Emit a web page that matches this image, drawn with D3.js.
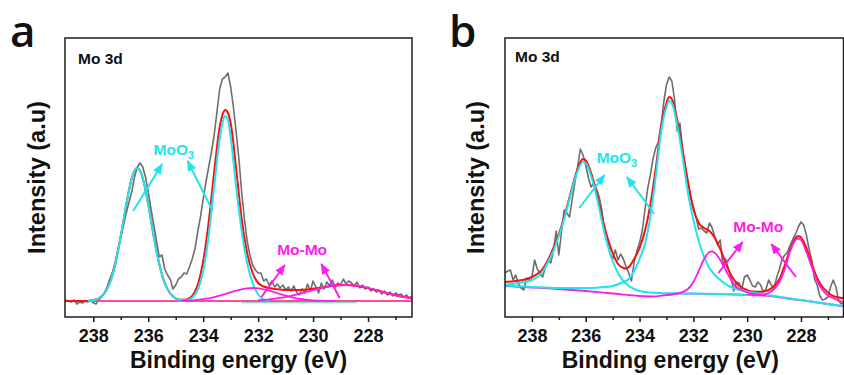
<!DOCTYPE html>
<html>
<head>
<meta charset="utf-8">
<script src="https://cdn.jsdelivr.net/npm/d3@7"></script>
<style>
  html, body { margin: 0; padding: 0; background: #fff; }
  svg text { font-family: "Liberation Sans", Arial, sans-serif; font-weight: bold; }
  svg text.panel-letter { font-family: "Open Sans", "Noto Sans", sans-serif; font-weight: 600; }
</style>
</head>
<body>
<svg id="chart" width="844" height="375"></svg>
<script>
// ---- data (binding energy in eV, intensity in arbitrary units) ----
const energyTicks = [238, 236, 234, 232, 230, 228];
const minorTicks = [237, 235, 233, 231, 229, 227];
const rawStart = 239.0;   // first raw point
const rawStep = 0.1;      // eV between raw points

// measured spectrum, panel a
const rawA = [
  17, 16, 15, 17, 13, 15, 14, 16, 15, 17,
  14, 13, 17, 20, 24, 30, 38, 45, 55, 68,
  80, 92, 104, 115, 125, 140, 150, 154, 150, 140,
  125, 108, 92, 76, 60, 62, 48, 42, 38, 28,
  32, 38, 40, 44, 43, 50, 58, 68, 85, 100,
  118, 135, 150, 165, 182, 205, 228, 238, 240, 244,
  230, 210, 185, 158, 125, 98, 76, 62, 52, 47,
  44, 44, 36, 38, 32, 36, 30, 33, 29, 32,
  27, 30, 26, 31, 25, 22, 28, 24, 33, 26,
  36, 30, 24, 34, 28, 35, 31, 37, 30, 34,
  32, 38, 33, 36, 34, 31, 35, 29, 32, 28,
  30, 26, 28, 25, 27, 23, 26, 22, 25, 21,
  24, 22, 23, 20, 22, 19, 21
];
// measured spectrum, panel b
const rawB = [
  44, 46, 47, 37, 42, 33, 29, 27, 39, 37,
  40, 57, 48, 44, 40, 50, 57, 54, 66, 86,
  62, 85, 107, 104, 100, 118, 135, 150, 168, 162,
  152, 139, 130, 134, 128, 120, 107, 84, 78, 64,
  58, 67, 57, 63, 58, 50, 44, 36, 55, 66,
  74, 86, 107, 128, 142, 158, 169, 175, 192, 215,
  232, 240, 236, 218, 186, 194, 168, 150, 135, 120,
  110, 100, 88, 89, 86, 84, 94, 89, 80, 72,
  77, 51, 58, 48, 40, 26, 35, 34, 28, 40,
  42, 37, 31, 30, 35, 32, 25, 28, 37, 32,
  28, 40, 48, 58, 62, 65, 72, 78, 83, 90,
  95, 92, 82, 68, 57, 38, 32, 21, 17, 18,
  20, 30, 37, 30, 16, 13, 15
];

// fitted components, panel a
const bgA = [[239.03, 16], [226.4, 16]];
const bgA2 = [[232.6, 14.3], [228.4, 14.3]];
const envA = [[239.03, 16], [238.4, 16], [238.2, 16.1], [238.0, 16.8], [237.8, 18.6], [237.6, 23.5],
  [237.4, 34], [237.2, 53], [237.0, 80.7], [236.8, 112.6], [236.6, 138.8], [236.5, 146.4], [236.4, 149],
  [236.3, 146.4], [236.2, 138.8], [236.0, 112.6], [235.8, 80.7], [235.6, 53], [235.4, 34], [235.2, 23.5],
  [235.0, 18.7], [234.8, 17.2], [234.6, 17.6], [234.4, 21], [234.2, 32], [234.0, 56], [233.8, 95],
  [233.6, 145], [233.4, 190], [233.3, 202], [233.2, 207], [233.1, 204], [233.0, 194], [232.8, 148],
  [232.6, 98], [232.4, 64], [232.2, 44], [232.0, 34], [231.8, 30.5], [231.6, 29], [231.4, 28],
  [231.2, 27.5], [231.0, 27], [230.8, 27], [230.6, 27], [230.4, 27.2], [230.2, 27.6], [230.0, 28.2],
  [229.8, 29], [229.6, 29.8], [229.4, 30.7], [229.2, 31.4], [229.0, 31.9], [228.8, 32], [228.6, 31.7],
  [228.4, 31.1], [228.2, 30.1], [228.0, 28.9], [227.8, 27.5], [227.6, 26.1], [227.4, 24.6], [227.2, 23.2],
  [227.0, 21.8], [226.8, 20.6], [226.6, 19.6], [226.4, 18.7]];
const moo3A1 = [[238.2, 16.1], [238.0, 16.8], [237.8, 18.6], [237.6, 23.5], [237.4, 34], [237.2, 53],
  [237.0, 80.7], [236.8, 112.6], [236.6, 138.8], [236.5, 146.4], [236.4, 149], [236.3, 146.4], [236.2, 138.8],
  [236.0, 112.6], [235.8, 80.7], [235.6, 53], [235.4, 34], [235.2, 23.5], [235.0, 18.6], [234.8, 16.8], [234.6, 16.2]];
const moo3A2 = [[234.8, 16.2], [234.6, 16.8], [234.4, 19.3], [234.2, 27.1], [234.0, 46], [233.8, 81.5],
  [233.6, 130.9], [233.4, 178.3], [233.3, 194], [233.2, 201], [233.1, 197], [233.0, 180], [232.8, 130],
  [232.6, 86], [232.4, 54], [232.2, 34], [232.0, 22.5], [231.8, 17.5], [231.6, 16.3]];
const momoA1 = [[234.8, 16.2], [234.4, 16.6], [234.0, 17.8], [233.6, 19.9], [233.2, 23], [232.8, 26.4],
  [232.4, 28.7], [232.2, 29], [232.0, 28.7], [231.6, 26.4], [231.2, 23], [230.8, 19.9], [230.4, 17.8],
  [230.0, 16.6], [229.6, 16.2], [229.2, 16]];
const momoA2 = [[232.0, 16.85], [231.6, 17.7], [231.2, 19.1], [230.8, 21.2], [230.4, 23.9], [230.0, 26.8],
  [229.6, 29.6], [229.2, 31.4], [228.8, 32], [228.4, 31.1], [228.0, 28.9], [227.6, 26.1], [227.2, 23.2],
  [226.8, 20.6], [226.4, 18.7]];

// fitted components, panel b
const bgB = [[239.0, 31], [238.0, 29.5], [237.0, 28], [236.0, 26], [235.0, 23.5], [234.0, 21], [233.5, 20.5],
  [233.0, 22], [232.5, 23.3], [232.0, 23.3], [231.0, 22.8], [230.0, 22.2], [229.5, 21.7], [229.0, 20.5],
  [228.5, 18.5], [228.0, 16.8], [227.5, 15], [227.0, 13], [226.42, 10.5]];
const envB = [[239.0, 35], [238.6, 36], [238.2, 38], [238.0, 40], [237.8, 43], [237.6, 48], [237.4, 57],
  [237.2, 69], [237.0, 83], [236.8, 100], [236.6, 120], [236.4, 140], [236.2, 155], [236.1, 158],
  [236.0, 156.5], [235.8, 144], [235.6, 125], [235.4, 101], [235.2, 80], [235.0, 64], [234.8, 53],
  [234.6, 49], [234.5, 48.5], [234.4, 50], [234.2, 58], [234.0, 69], [233.8, 86], [233.6, 112],
  [233.4, 148], [233.2, 190], [233.0, 214], [232.9, 220], [232.8, 218], [232.6, 197], [232.4, 167],
  [232.2, 135], [232.0, 108], [231.8, 94], [231.6, 89], [231.4, 86], [231.2, 79], [231.0, 68],
  [230.8, 54], [230.6, 42], [230.4, 34], [230.2, 29.5], [230.0, 27], [229.8, 25.5], [229.6, 25.3],
  [229.4, 25.5], [229.2, 27], [229.0, 31], [228.8, 38], [228.6, 52], [228.4, 68], [228.2, 79],
  [228.1, 81], [228.0, 79.5], [227.8, 69], [227.6, 53], [227.4, 39], [227.2, 30], [227.0, 24.5],
  [226.8, 21], [226.6, 19.5], [226.42, 18.7]];
const moo3B1 = [[239.0, 32], [238.5, 34], [238.0, 37], [237.8, 40], [237.6, 45], [237.4, 55], [237.2, 66],
  [237.0, 81], [236.8, 98], [236.6, 118], [236.4, 138], [236.2, 152], [236.1, 155], [236.0, 154],
  [235.8, 141], [235.6, 121], [235.4, 96], [235.2, 73], [235.0, 56], [234.8, 44], [234.6, 36],
  [234.4, 31], [234.2, 28], [234.0, 26], [233.6, 24.5], [233.0, 23.8], [232.5, 23.6], [232.0, 23.4],
  [231.0, 22.9], [230.0, 22.3]];
const moo3B2 = [[239.0, 31.5], [238.0, 30], [237.0, 29], [236.0, 29], [235.5, 29.5], [235.0, 31],
  [234.6, 35], [234.4, 38], [234.2, 46], [234.0, 58], [233.8, 73], [233.6, 100], [233.4, 140],
  [233.2, 185], [233.0, 210], [232.9, 216], [232.8, 214], [232.6, 192], [232.4, 160], [232.2, 124],
  [232.0, 97], [231.8, 76], [231.6, 60], [231.4, 49], [231.2, 42], [231.0, 37], [230.8, 33],
  [230.6, 30], [230.4, 28], [230.2, 26.5], [230.0, 25.3], [229.6, 23.5], [229.0, 21], [228.5, 19],
  [228.0, 17], [227.5, 15], [227.0, 13], [226.42, 11]];
const momoB1 = [[233.0, 22], [232.6, 23.5], [232.4, 25], [232.2, 28], [232.0, 35], [231.8, 46],
  [231.6, 58], [231.4, 65], [231.3, 65.5], [231.2, 64], [231.0, 57], [230.8, 47], [230.6, 37],
  [230.4, 30], [230.2, 27], [230.0, 24.5], [229.6, 22.5], [229.3, 21.5]];
const momoB2 = [[229.8, 21.5], [229.5, 22], [229.2, 24], [229.0, 28], [228.8, 35], [228.6, 48],
  [228.4, 66], [228.2, 77], [228.1, 78.5], [228.0, 77], [227.8, 65], [227.6, 50], [227.4, 36],
  [227.2, 27], [227.0, 21.5], [226.8, 19], [226.6, 16.5], [226.42, 15]];

// annotations: [energy, intensity] of text and arrow tail -> head
const labelsA = { moo3: [235.07, 162], momo: [230.4, 62] };
const arrowsA = {
  moo3: [[[236.55, 106], [235.49, 153]], [[233.67, 107], [234.57, 156]]],
  momo: [[[231.88, 20], [231.03, 52]], [[229.03, 19], [229.7, 53]]]
};
const labelsB = { moo3: [234.84, 154], momo: [229.59, 85] };
const arrowsB = {
  moo3: [[[236.24, 109], [235.3, 142]], [[233.45, 103], [234.47, 140]]],
  momo: [[[231.07, 44], [230.17, 75]], [[228.19, 40], [229.1, 73]]]
};

const colors = {
  raw: '#6e6e6e', env: '#ff0d0d', moo3: '#1de4ee', momo: '#fb1ee9', bgA: '#ff4aa5', bgA2: '#8fe3b4'
};

const svg = d3.select('#chart');
const defs = svg.append('defs');
['moo3', 'momo'].forEach(k => {
  defs.append('marker')
    .attr('id', 'head-' + k)
    .attr('markerUnits', 'userSpaceOnUse')
    .attr('markerWidth', 12).attr('markerHeight', 10)
    .attr('refX', 10).attr('refY', 4.5)
    .attr('orient', 'auto')
    .append('path')
    .attr('d', 'M0,0 L11,4.5 L0,9 Z')
    .attr('fill', colors[k]);
});

const panels = [
  {
    letter: 'a', letterX: 10, left: 65, right: 412, domain: [239.03, 226.4], raw: rawA,
    envelope: envA, moo3: [moo3A1, moo3A2], momo: [momoA1, momoA2],
    labels: labelsA, arrows: arrowsA, yTitleX: 45
  },
  {
    letter: 'b', letterX: 449, left: 505, right: 843.5, domain: [239.0, 226.42], raw: rawB,
    envelope: envB, moo3: [moo3B1, moo3B2], momo: [momoB1, momoB2],
    labels: labelsB, arrows: arrowsB, yTitleX: 484
  }
];

panels.forEach((p, pi) => {
  const top = 38, bottom = 317;
  const x = d3.scaleLinear().domain(p.domain).range([p.left, p.right]);
  const y = d3.scaleLinear().domain([0, 279]).range([bottom, top]);
  const g = svg.append('g');

  defs.append('clipPath').attr('id', 'clip' + pi)
    .append('rect')
    .attr('x', p.left).attr('y', top)
    .attr('width', p.right - p.left).attr('height', bottom - top);

  const line = d3.line()
    .x(d => x(d[0]))
    .y(d => y(d[1]))
    .curve(d3.curveMonotoneX);
  const rawLine = d3.line()
    .x(d => x(d[0]))
    .y(d => y(d[1]));

  const plot = g.append('g').attr('clip-path', `url(#clip${pi})`);
  const rawPts = p.raw.map((v, i) => [rawStart - i * rawStep, v]);

  plot.append('path').datum(rawPts)
    .attr('d', rawLine).attr('fill', 'none')
    .attr('stroke', colors.raw).attr('stroke-width', 1.6).attr('stroke-linejoin', 'round');

  if (pi === 0) {
    plot.append('path').datum(bgA2).attr('d', line).attr('fill', 'none')
      .attr('stroke', colors.bgA2).attr('stroke-width', 1.2);
    plot.append('path').datum(bgA).attr('d', line).attr('fill', 'none')
      .attr('stroke', colors.bgA).attr('stroke-width', 1.8);
  } else {
    plot.append('path').datum(bgB).attr('d', line).attr('fill', 'none')
      .attr('stroke', colors.momo).attr('stroke-width', 1.8);
  }

  plot.append('path').datum(p.envelope).attr('d', line).attr('fill', 'none')
    .attr('stroke', colors.env).attr('stroke-width', 2);

  p.moo3.forEach(c => {
    plot.append('path').datum(c).attr('d', line).attr('fill', 'none')
      .attr('stroke', colors.moo3).attr('stroke-width', 2);
  });
  p.momo.forEach(c => {
    plot.append('path').datum(c).attr('d', line).attr('fill', 'none')
      .attr('stroke', colors.momo).attr('stroke-width', 1.8);
  });

  // frame
  g.append('rect')
    .attr('x', p.left).attr('y', top)
    .attr('width', p.right - p.left).attr('height', bottom - top)
    .attr('fill', 'none').attr('stroke', '#1e1e1e').attr('stroke-width', 1.5);

  // x axis
  const ax = g.append('g').attr('transform', `translate(0,${bottom})`)
    .call(d3.axisBottom(x).tickValues(energyTicks).tickSize(5).tickPadding(7).tickFormat(d3.format('d')));
  ax.select('.domain').remove();
  ax.selectAll('line').attr('stroke', '#1e1e1e').attr('stroke-width', 1.5);
  ax.selectAll('text').attr('font-size', 18).attr('font-weight', 'bold').attr('fill', '#111')
    .attr('font-family', '"Liberation Sans", Arial, sans-serif');

  const mx = g.append('g').attr('transform', `translate(0,${bottom})`)
    .call(d3.axisBottom(x).tickValues(minorTicks).tickSize(3).tickFormat(''));
  mx.select('.domain').remove();
  mx.selectAll('line').attr('stroke', '#1e1e1e').attr('stroke-width', 1.5);

  // titles
  g.append('text')
    .attr('x', (p.left + p.right) / 2 + (pi === 0 ? 0 : -4)).attr('y', 368)
    .attr('text-anchor', 'middle').attr('font-size', 23).attr('fill', '#111')
    .text('Binding energy (eV)');
  g.append('text')
    .attr('transform', `translate(${p.yTitleX},${(top + bottom) / 2}) rotate(-90)`)
    .attr('text-anchor', 'middle').attr('font-size', 23.5).attr('fill', '#111')
    .text('Intensity (a.u)');
  g.append('text')
    .attr('class', 'panel-letter')
    .attr('x', p.letterX).attr('y', 47)
    .attr('font-size', 44).attr('fill', '#111')
    .text(p.letter);
  g.append('text')
    .attr('x', p.left + (pi === 0 ? 13 : 10)).attr('y', pi === 0 ? 64 : 62)
    .attr('font-size', 15.5).attr('fill', '#111')
    .text('Mo 3d');

  // annotations
  const mt = g.append('text')
    .attr('x', x(p.labels.moo3[0])).attr('y', y(p.labels.moo3[1]))
    .attr('text-anchor', 'middle').attr('font-size', 15.5).attr('fill', colors.moo3);
  mt.append('tspan').text('MoO');
  mt.append('tspan').attr('font-size', 11).attr('dy', 4).text('3');

  g.append('text')
    .attr('x', x(p.labels.momo[0])).attr('y', y(p.labels.momo[1]))
    .attr('text-anchor', 'middle').attr('font-size', 15.5).attr('fill', colors.momo)
    .text('Mo-Mo');

  ['moo3', 'momo'].forEach(k => {
    p.arrows[k].forEach(a => {
      g.append('line')
        .attr('x1', x(a[0][0])).attr('y1', y(a[0][1]))
        .attr('x2', x(a[1][0])).attr('y2', y(a[1][1]))
        .attr('stroke', colors[k]).attr('stroke-width', 2)
        .attr('marker-end', `url(#head-${k})`);
    });
  });
});
</script>
</body>
</html>
